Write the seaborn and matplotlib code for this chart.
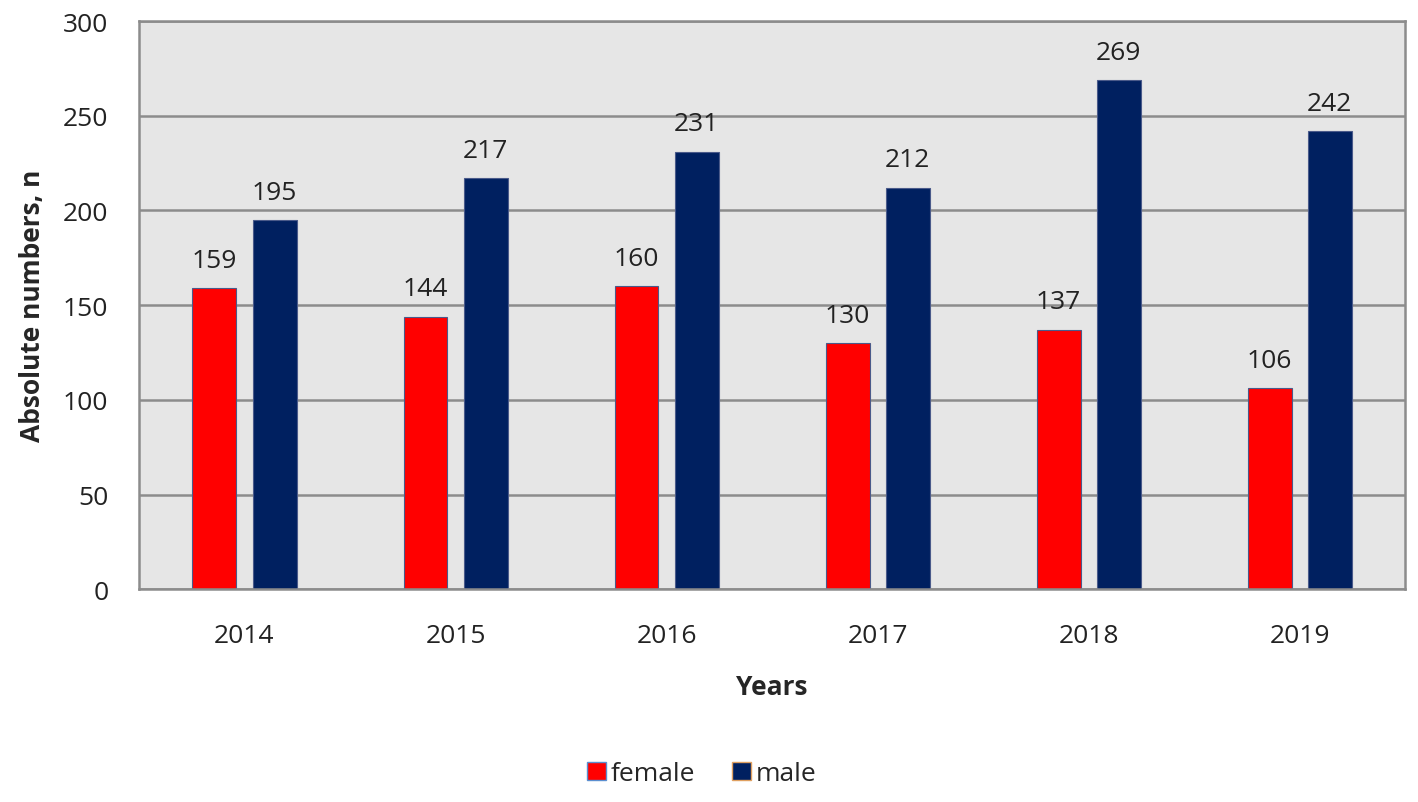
import pandas as pd
import numpy as np
import matplotlib.pyplot as plt
import seaborn as sns
from matplotlib.patches import Patch

years = ['2014', '2015', '2016', '2017', '2018', '2019']
female = [159, 144, 160, 130, 137, 106]
male = [195, 217, 231, 212, 269, 242]

df = pd.DataFrame({'Years': years * 2,
                   'n': female + male,
                   'sex': ['female'] * 6 + ['male'] * 6})

sns.set_style('white')
plt.rcParams['font.family'] = ['Open Sans', 'DejaVu Sans']

fig = plt.figure(figsize=(14.18, 8.03), dpi=100)
ax = fig.add_axes([0.098, 0.265, 0.893, 0.7075])
ax.set_facecolor('#e6e6e6')

sns.barplot(data=df, x='Years', y='n', hue='sex', palette=['#ff0000', '#002060'],
            width=0.57, gap=0.27, ax=ax, legend=False, saturation=1,
            edgecolor='#4a5a8a', linewidth=0.8)

for cont in ax.containers:
    ax.bar_label(cont, padding=11, fontsize=19, color='#222222')

ax.set_ylim(0, 300)
ax.set_yticks(np.arange(0, 301, 50))
ax.yaxis.grid(True, color='#8c8c8c', linewidth=1.8)
ax.set_axisbelow(True)
for s in ax.spines.values():
    s.set_color('#8c8c8c')
    s.set_linewidth(1.8)

ax.tick_params(axis='both', labelsize=19, colors='#222222', length=0)
ax.tick_params(axis='y', pad=22)
ax.tick_params(axis='x', pad=24)
ax.set_xlabel('Years', fontsize=19, fontweight='bold', labelpad=18)
ax.set_ylabel('Absolute numbers, n', fontsize=19, fontweight='bold', labelpad=12)

handles = [Patch(facecolor='#ff0000', edgecolor='#5b8fd0', label='female'),
           Patch(facecolor='#002060', edgecolor='#e0a060', label='male')]
fig.legend(handles=handles, loc='center', bbox_to_anchor=(0.495, 0.035), ncol=2,
           frameon=False, fontsize=19, handlelength=0.7, handleheight=0.7,
           handletextpad=0.2, columnspacing=1.4)

fig.savefig('out.png', dpi=100, facecolor='white')
